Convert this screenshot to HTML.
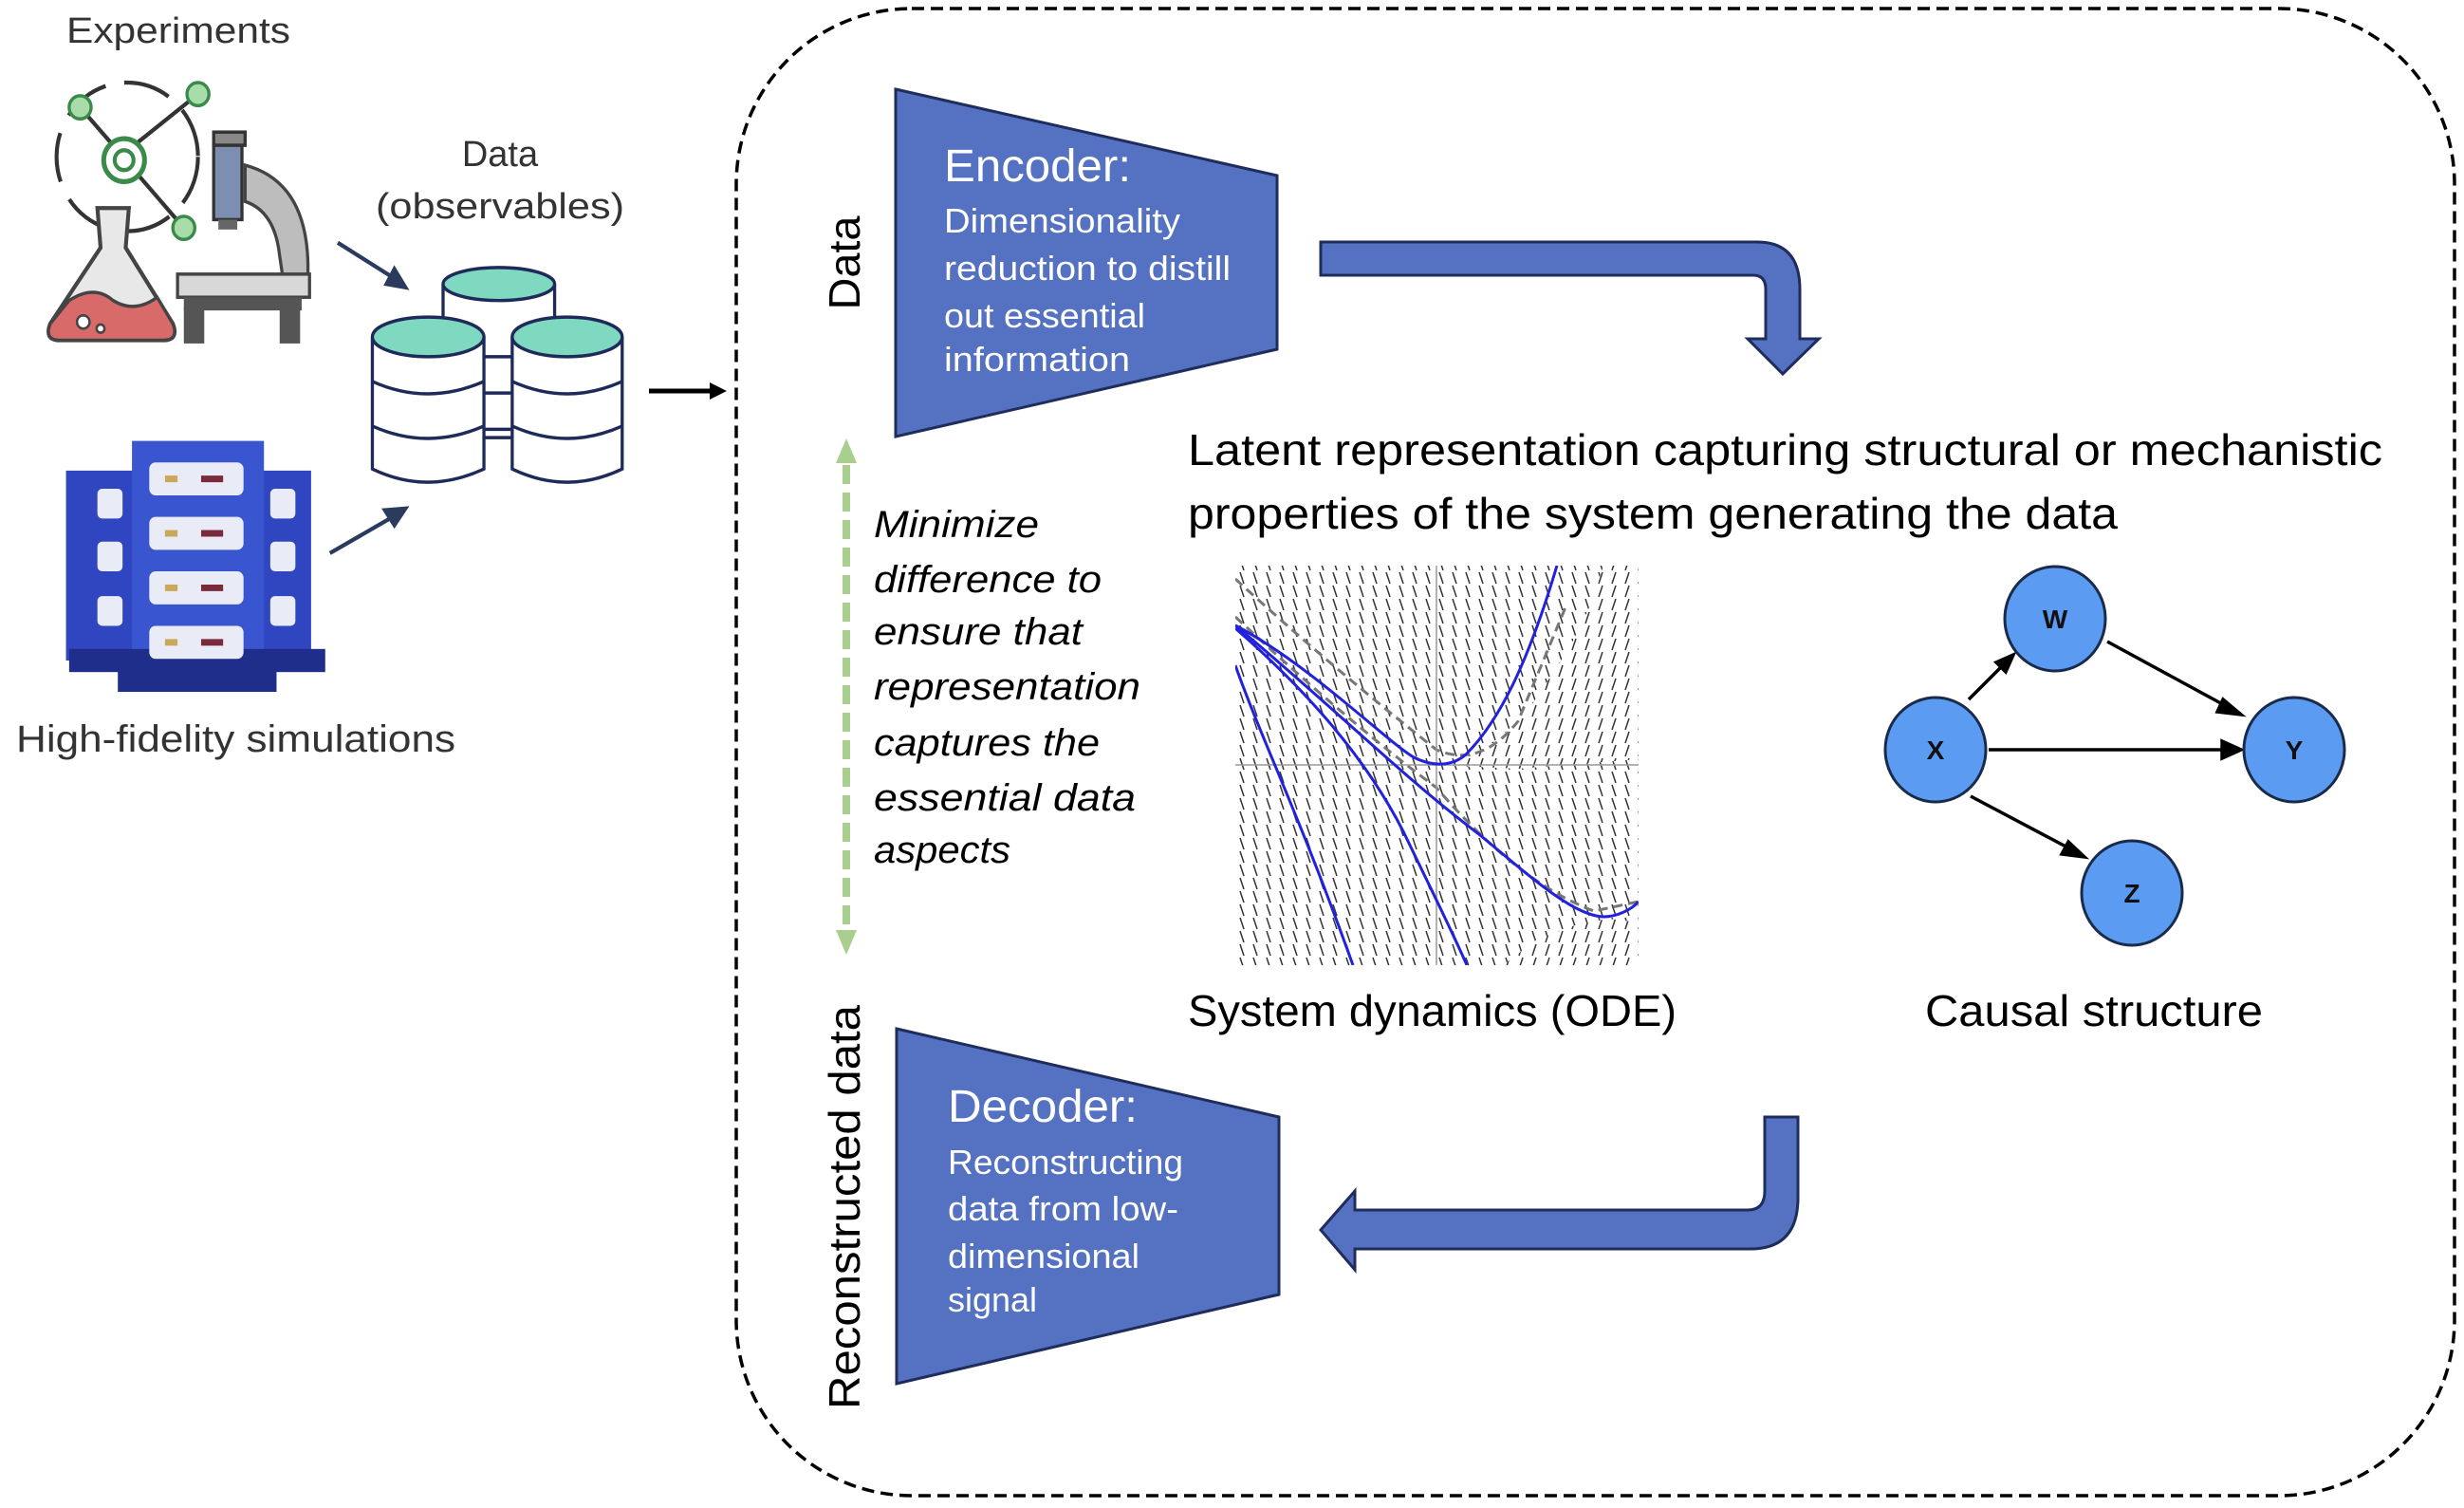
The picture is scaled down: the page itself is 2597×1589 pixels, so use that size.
<!DOCTYPE html>
<html><head><meta charset="utf-8"><style>
html,body{margin:0;padding:0;background:#fff;}
svg{display:block;}
text{font-family:"Liberation Sans",sans-serif;}
</style></head><body>
<svg width="2597" height="1589" viewBox="0 0 2597 1589" xmlns="http://www.w3.org/2000/svg">
<defs>
<pattern id="bs" width="14" height="14" patternUnits="userSpaceOnUse">
<line x1="5" y1="1" x2="9" y2="13" stroke="#333" stroke-width="1.5"/>
</pattern>
<pattern id="fs" width="14" height="14" patternUnits="userSpaceOnUse">
<line x1="9" y1="1" x2="5" y2="13" stroke="#333" stroke-width="1.5"/>
</pattern>
<clipPath id="pc"><rect x="1302" y="596" width="425" height="421"/></clipPath>
</defs>
<rect width="2597" height="1589" fill="#fff"/>
<rect x="776" y="9" width="1811" height="1567" rx="185" ry="185" fill="none" stroke="#000" stroke-width="3.5" stroke-dasharray="13,7"/>

<text x="70" y="45" font-size="38" fill="#333" textLength="236" lengthAdjust="spacingAndGlyphs">Experiments</text>
<text x="527" y="175" font-size="38" fill="#333" text-anchor="middle">Data</text>
<text x="527" y="230" font-size="38" fill="#333" text-anchor="middle" textLength="262" lengthAdjust="spacingAndGlyphs">(observables)</text>
<text x="17" y="792" font-size="40" fill="#333" textLength="463" lengthAdjust="spacingAndGlyphs">High-fidelity simulations</text>

<g transform="scale(1.656,1.74)">
  <circle cx="81" cy="95" r="45" fill="none" stroke="#333" stroke-width="2.5" stroke-dasharray="30,12"/>
  <g stroke="#333" stroke-width="2.5">
    <line x1="51" y1="65" x2="72" y2="88"/>
    <line x1="88" y1="86" x2="126" y2="57"/>
    <line x1="88" y1="106" x2="117" y2="138"/>
  </g>
  <circle cx="51" cy="65" r="7" fill="#a8dca8" stroke="#3a8a4a" stroke-width="2"/>
  <circle cx="126" cy="57" r="7" fill="#a8dca8" stroke="#3a8a4a" stroke-width="2"/>
  <circle cx="117" cy="138" r="7" fill="#a8dca8" stroke="#3a8a4a" stroke-width="2"/>
  <circle cx="79" cy="97" r="13" fill="#fff" stroke="#3a8a4a" stroke-width="3"/>
  <circle cx="79" cy="97" r="6" fill="none" stroke="#3a8a4a" stroke-width="2.5"/>
  <path d="M62 126 L82 126 L80 150 L110 196 Q114 206 104 206 L38 206 Q28 206 32 196 L64 150 Z" fill="#e8e8e8" stroke="#444" stroke-width="2.5"/>
  <path d="M44 182 Q60 172 72 182 Q86 190 100 180 L110 196 Q114 206 104 206 L38 206 Q28 206 32 196 Z" fill="#d86a6a" stroke="#444" stroke-width="2"/>
  <circle cx="53" cy="195" r="4" fill="#fff" stroke="#444" stroke-width="1.5"/>
  <circle cx="64" cy="199" r="2.5" fill="#fff" stroke="#444" stroke-width="1.5"/>
  <rect x="136" y="80" width="20" height="8" fill="#888" stroke="#333" stroke-width="2"/>
  <rect x="136" y="88" width="18" height="45" fill="#7d8fb0" stroke="#333" stroke-width="2"/>
  <rect x="139" y="133" width="12" height="6" fill="#666"/>
  <path d="M156 100 Q195 110 196 160 L196 168 L180 168 L178 155 Q175 128 156 122 Z" fill="#bdbdbd" stroke="#444" stroke-width="2"/>
  <rect x="113" y="166" width="84" height="14" fill="#d8d8d8" stroke="#444" stroke-width="2"/>
  <rect x="117" y="180" width="75" height="8" fill="#555"/>
  <rect x="117" y="186" width="13" height="22" fill="#555"/>
  <rect x="178" y="186" width="13" height="22" fill="#555"/>
  <g stroke="#2b3b5e" stroke-width="2.5" fill="#2b3b5e">
    <line x1="215" y1="147" x2="250" y2="168"/><polygon points="258,174 246,172 251,163"/>
    <line x1="210" y1="335" x2="250" y2="313"/><polygon points="258,308 251,318 245,309"/>
  </g>
  <rect x="42" y="285" width="156" height="115" fill="#3046c0"/>
  <rect x="84" y="267" width="84" height="135" fill="#3a55d0"/>
  <rect x="44" y="393" width="163" height="14" fill="#1e2e8a"/>
  <rect x="75" y="405" width="101" height="14" fill="#1e2e8a"/>
  <g fill="#e9ebf6">
    <rect x="95" y="280" width="60" height="20" rx="4"/><rect x="95" y="313" width="60" height="20" rx="4"/>
    <rect x="95" y="346" width="60" height="20" rx="4"/><rect x="95" y="379" width="60" height="20" rx="4"/>
    <rect x="62" y="296" width="16" height="18" rx="3"/><rect x="62" y="328" width="16" height="18" rx="3"/><rect x="62" y="361" width="16" height="18" rx="3"/>
    <rect x="172" y="296" width="16" height="18" rx="3"/><rect x="172" y="328" width="16" height="18" rx="3"/><rect x="172" y="361" width="16" height="18" rx="3"/>
  </g>
  <g stroke-width="4">
    <line x1="105" y1="290" x2="113" y2="290" stroke="#c9a85a"/><line x1="128" y1="290" x2="142" y2="290" stroke="#7a2a3a"/>
    <line x1="105" y1="323" x2="113" y2="323" stroke="#c9a85a"/><line x1="128" y1="323" x2="142" y2="323" stroke="#7a2a3a"/>
    <line x1="105" y1="356" x2="113" y2="356" stroke="#c9a85a"/><line x1="128" y1="356" x2="142" y2="356" stroke="#7a2a3a"/>
    <line x1="105" y1="389" x2="113" y2="389" stroke="#c9a85a"/><line x1="128" y1="389" x2="142" y2="389" stroke="#7a2a3a"/>
  </g>
  <g stroke="#1e2a5a" stroke-width="2">
    <path d="M282 172 L282 260 L353 260 L353 172" fill="#fff"/>
    <ellipse cx="317.5" cy="172" rx="35.5" ry="10" fill="#7fd8c0"/>
    <path d="M237 204 L237 284 Q272 300 308 284 L308 204" fill="#fff"/>
    <path d="M237 231 Q272 246 308 231 M237 258 Q272 273 308 258" fill="none"/>
    <ellipse cx="272.5" cy="204" rx="35.5" ry="12" fill="#7fd8c0"/>
    <path d="M326 204 L326 284 Q361 300 396 284 L396 204" fill="#fff"/>
    <path d="M326 231 Q361 246 396 231 M326 258 Q361 273 396 258" fill="none"/>
    <ellipse cx="361" cy="204" rx="35" ry="12" fill="#7fd8c0"/>
    <line x1="308" y1="216" x2="326" y2="216"/><line x1="308" y1="238" x2="326" y2="238"/><line x1="308" y1="265" x2="326" y2="265"/>
  </g>
</g>

<line x1="684" y1="412" x2="752" y2="412" stroke="#000" stroke-width="5"/>
<polygon points="766,412 748,403 748,421" fill="#000"/>

<polygon points="944,94 1346,185 1346,368 944,460" fill="#5572c2" stroke="#1f2d5c" stroke-width="3"/>
<text x="995" y="191" font-size="48" fill="#fff" textLength="197" lengthAdjust="spacingAndGlyphs">Encoder:</text>
<g font-size="36" fill="#fff">
<text x="995" y="245" textLength="249" lengthAdjust="spacingAndGlyphs">Dimensionality</text>
<text x="995" y="295" textLength="302" lengthAdjust="spacingAndGlyphs">reduction to distill</text>
<text x="995" y="345" textLength="212" lengthAdjust="spacingAndGlyphs">out essential</text>
<text x="995" y="391" textLength="196" lengthAdjust="spacingAndGlyphs">information</text>
</g>
<text transform="translate(906,277) rotate(-90)" font-size="46" fill="#000" text-anchor="middle" textLength="99" lengthAdjust="spacingAndGlyphs">Data</text>

<path d="M1392 255 L1852 255 Q1897 255 1897 305 L1897 357 L1917 357 L1879 394 L1842 357 L1861 357 L1861 305 Q1861 290 1848 290 L1392 290 Z" fill="#5572c2" stroke="#1f2d5c" stroke-width="3"/>

<text x="1252" y="490" font-size="46" fill="#000" textLength="1259" lengthAdjust="spacingAndGlyphs">Latent representation capturing structural or mechanistic</text>
<text x="1252" y="557" font-size="46" fill="#000" textLength="980" lengthAdjust="spacingAndGlyphs">properties of the system generating the data</text>

<line x1="892" y1="490" x2="892" y2="978" stroke="#a9cf8e" stroke-width="8" stroke-dasharray="20,9"/>
<polygon points="892,462 881,488 903,488" fill="#a9cf8e"/>
<polygon points="892,1006 881,980 903,980" fill="#a9cf8e"/>

<g font-size="40" font-style="italic" fill="#000">
<text x="921" y="566" textLength="174" lengthAdjust="spacingAndGlyphs">Minimize</text>
<text x="921" y="624" textLength="240" lengthAdjust="spacingAndGlyphs">difference to</text>
<text x="921" y="679" textLength="220" lengthAdjust="spacingAndGlyphs">ensure that</text>
<text x="921" y="737" textLength="281" lengthAdjust="spacingAndGlyphs">representation</text>
<text x="921" y="796" textLength="238" lengthAdjust="spacingAndGlyphs">captures the</text>
<text x="921" y="854" textLength="276" lengthAdjust="spacingAndGlyphs">essential  data</text>
<text x="921" y="909" textLength="144" lengthAdjust="spacingAndGlyphs">aspects</text>
</g>

<g clip-path="url(#pc)">
  <rect x="1302" y="596" width="425" height="421" fill="url(#bs)"/>
  <polygon points="1514,806 1549,798 1585,774 1620,735 1656,679 1676,638 1690,596 1727,596 1727,800 1600,810" fill="#fff"/>
  <polygon points="1514,806 1549,798 1585,774 1620,735 1656,679 1676,638 1690,596 1727,596 1727,800 1600,810" fill="url(#fs)"/>
  <polygon points="1584,1017 1620,990 1660,975 1695,968 1727,972 1727,1017" fill="#fff"/>
  <polygon points="1584,1017 1620,990 1660,975 1695,968 1727,972 1727,1017" fill="url(#fs)"/>
  <g fill="none" stroke="#777" stroke-width="3" stroke-dasharray="10,6">
    <path d="M1302 610 Q1400 700 1514 790 Q1560 810 1600 760 L1650 640"/>
    <path d="M1302 650 Q1420 760 1514 830 Q1600 930 1680 960 L1727 950"/>
  </g>
  <line x1="1302" y1="806" x2="1727" y2="806" stroke="#999" stroke-width="1.5"/>
  <line x1="1514" y1="596" x2="1514" y2="1017" stroke="#999" stroke-width="1.5"/>
  <g fill="none" stroke="#2222dd" stroke-width="3" stroke-linejoin="round">
    <path d="M1302 659 C1380 700 1460 780 1490 798 C1510 808 1530 808 1545 795 C1580 760 1610 700 1641 596"/>
    <path d="M1302 659 C1400 740 1480 820 1560 880 C1620 930 1660 965 1690 966 C1705 966 1720 958 1727 950"/>
    <path d="M1302 662 C1380 730 1440 800 1479 876 C1500 920 1530 980 1546 1017"/>
    <path d="M1302 701 C1330 780 1370 860 1426 1017"/>
  </g>
</g>

<text x="1252" y="1081" font-size="46" fill="#000" textLength="515" lengthAdjust="spacingAndGlyphs">System dynamics (ODE)</text>
<text x="2029" y="1081" font-size="46" fill="#000" textLength="356" lengthAdjust="spacingAndGlyphs">Causal structure</text>

<g stroke="#000" stroke-width="3.5" fill="#000">
<line x1="2075" y1="737" x2="2112" y2="700"/><polygon points="2122,690 2104,698 2114,708"/>
<line x1="2221" y1="676" x2="2348" y2="745"/><polygon points="2362,753 2343,737 2337,750"/>
<line x1="2096" y1="790" x2="2345" y2="790"/><polygon points="2362,790 2342,781 2342,799"/>
<line x1="2077" y1="839" x2="2183" y2="895"/><polygon points="2197,903 2180,887 2173,900"/>
</g>
<g fill="#5b9cf2" stroke="#1a2a4a" stroke-width="3">
<ellipse cx="2166" cy="652" rx="53" ry="55"/>
<ellipse cx="2040" cy="790" rx="53" ry="55"/>
<ellipse cx="2418" cy="790" rx="53" ry="55"/>
<ellipse cx="2247" cy="941" rx="53" ry="55"/>
</g>
<g font-size="28" font-weight="bold" fill="#111" text-anchor="middle">
<text x="2166" y="662">W</text><text x="2040" y="800">X</text><text x="2418" y="800">Y</text><text x="2247" y="951">Z</text>
</g>

<path d="M1860 1177 L1895 1177 L1895 1262 Q1895 1316 1845 1316 L1428 1316 L1428 1338 L1392 1296 L1428 1255 L1428 1275 L1842 1275 Q1860 1275 1860 1255 Z" fill="#5572c2" stroke="#1f2d5c" stroke-width="3"/>

<polygon points="945,1084 1348,1177 1348,1364 945,1458" fill="#5572c2" stroke="#1f2d5c" stroke-width="3"/>
<text x="999" y="1182" font-size="48" fill="#fff" textLength="200" lengthAdjust="spacingAndGlyphs">Decoder:</text>
<g font-size="36" fill="#fff">
<text x="999" y="1237" textLength="248" lengthAdjust="spacingAndGlyphs">Reconstructing</text>
<text x="999" y="1286" textLength="243" lengthAdjust="spacingAndGlyphs">data from low-</text>
<text x="999" y="1336" textLength="202" lengthAdjust="spacingAndGlyphs">dimensional</text>
<text x="999" y="1382" textLength="94" lengthAdjust="spacingAndGlyphs">signal</text>
</g>
<text transform="translate(906,1272) rotate(-90)" font-size="46" fill="#000" text-anchor="middle" textLength="426" lengthAdjust="spacingAndGlyphs">Reconstructed data</text>
</svg>
</body></html>
